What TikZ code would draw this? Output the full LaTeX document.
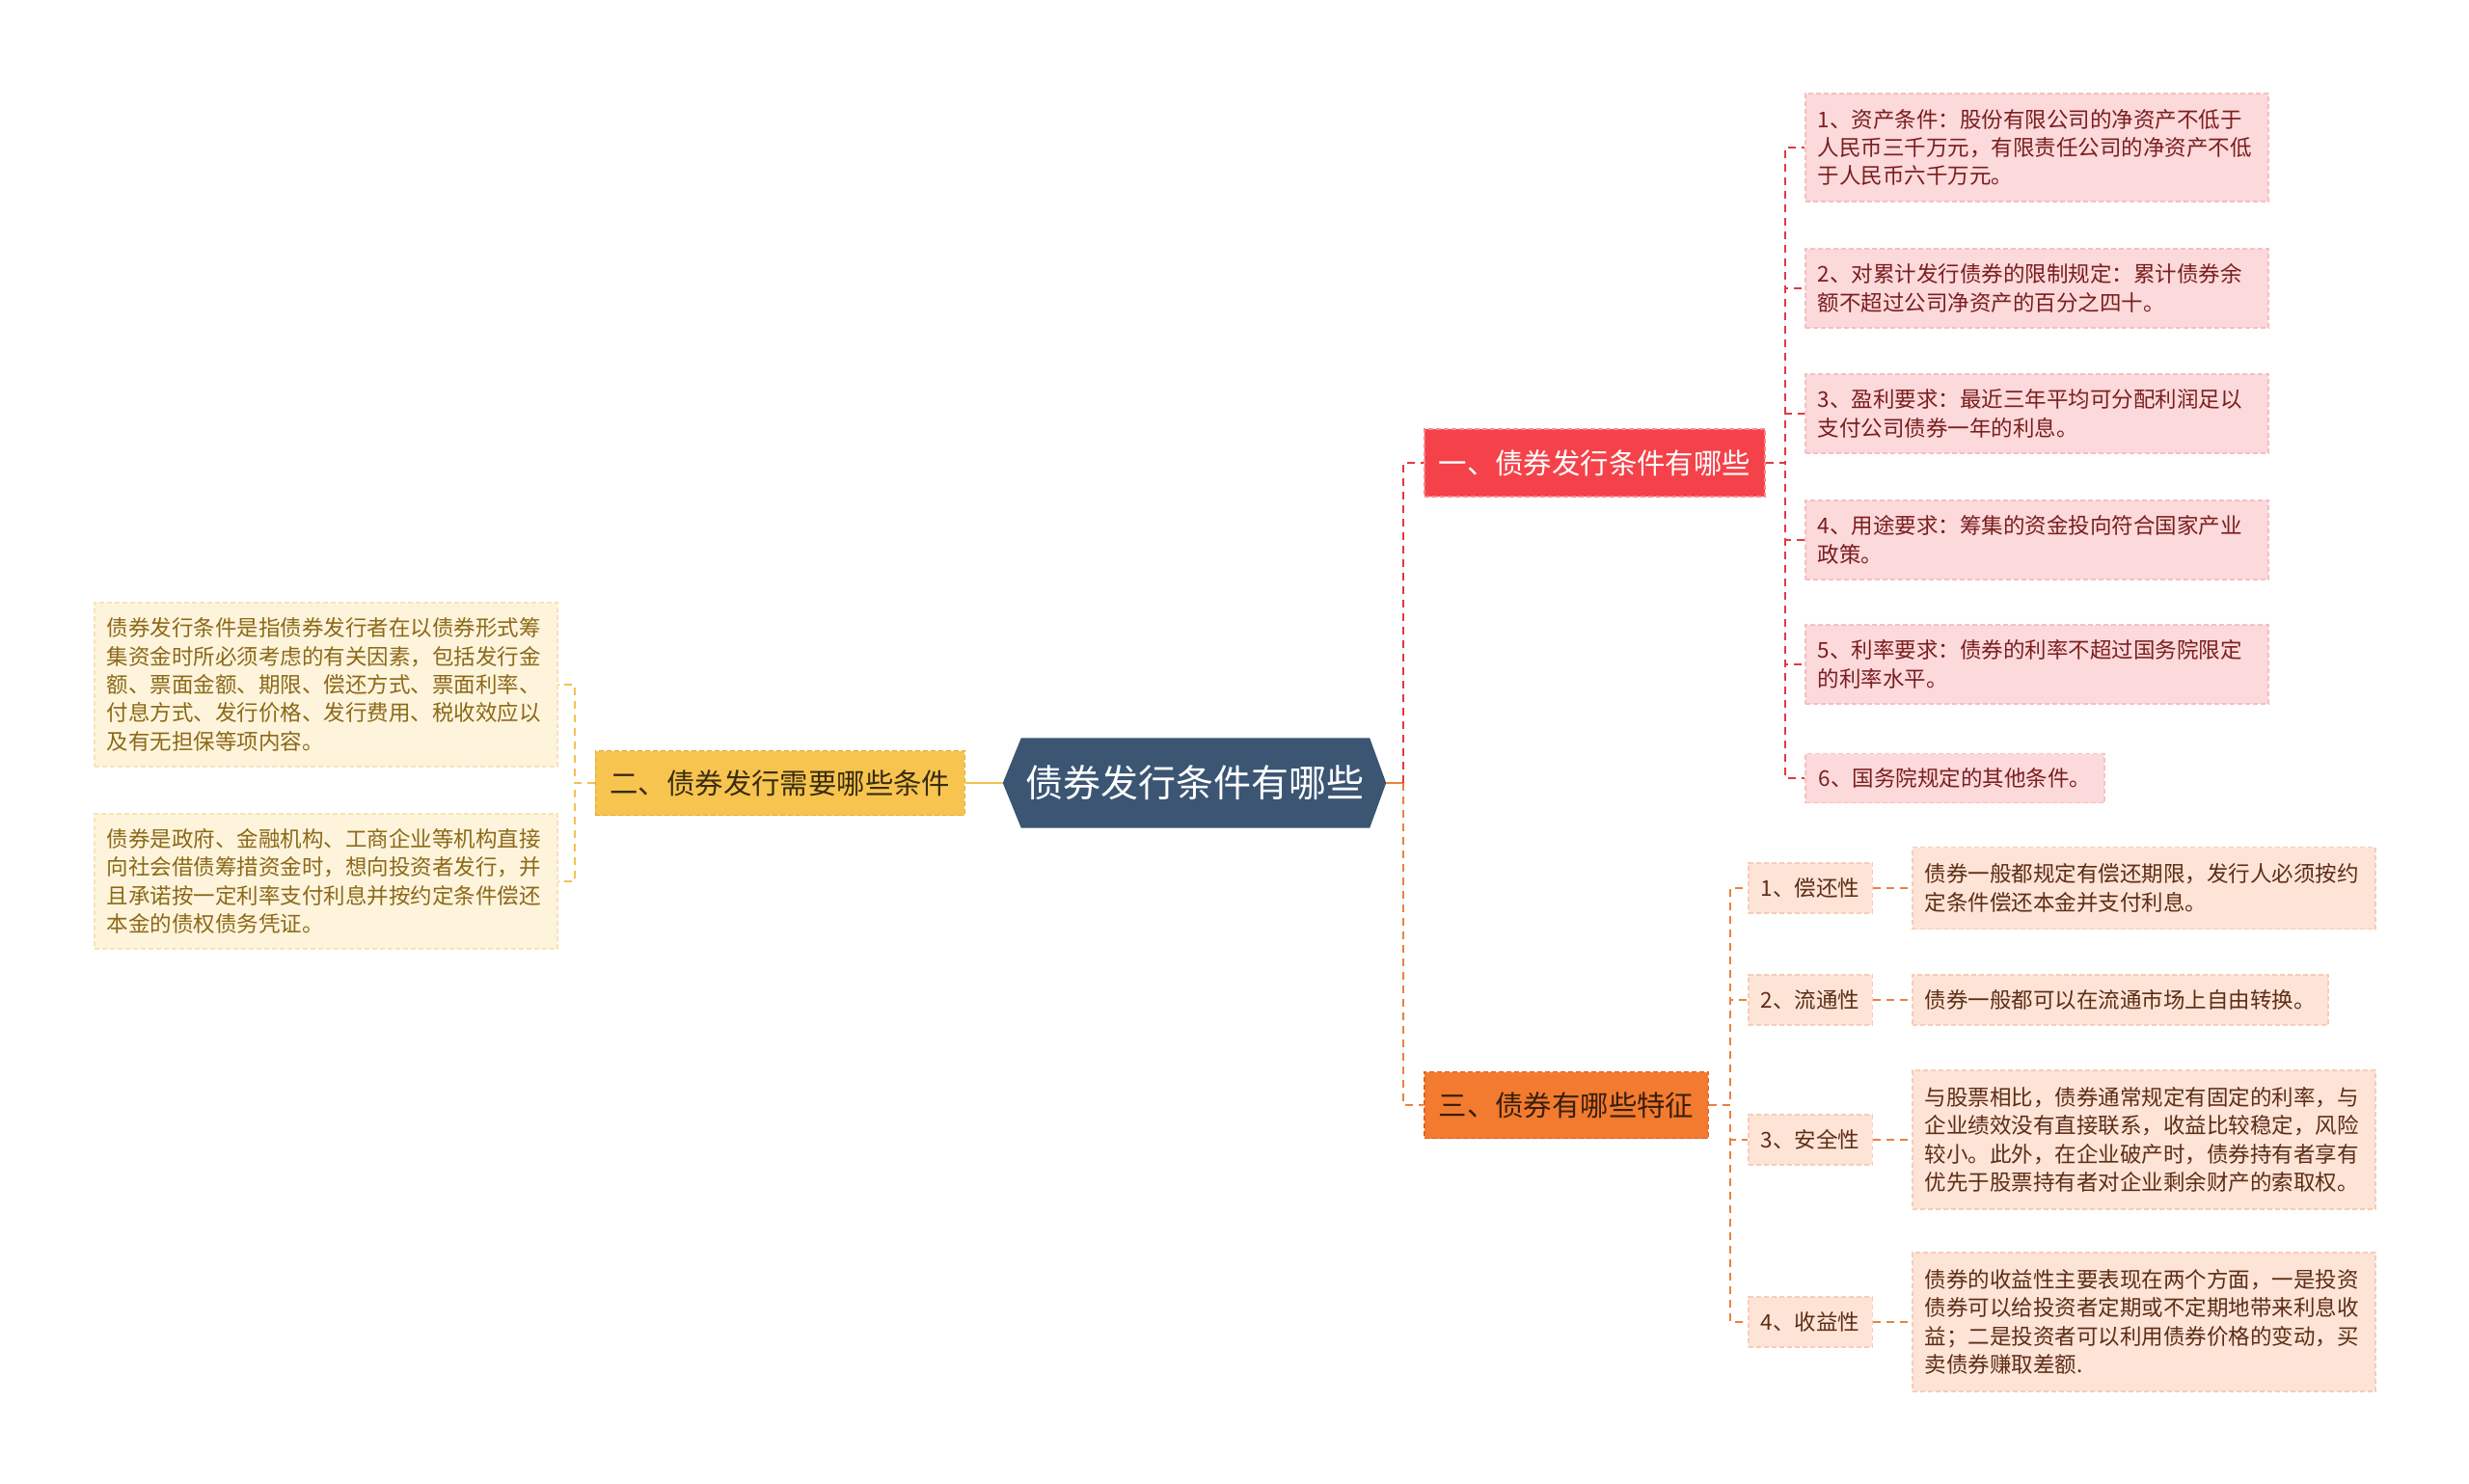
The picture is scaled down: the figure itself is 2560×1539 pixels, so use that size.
\documentclass[tikz,border=0pt]{standalone}
\usepackage{fontspec}
\newfontfamily\cjk{Noto Sans CJK SC}
\usetikzlibrary{backgrounds,calc}
\definecolor{rootfill}{HTML}{3B5573}
\definecolor{redfill}{HTML}{F5424A}
\definecolor{redborder}{HTML}{F58A8E}
\definecolor{redleaffill}{HTML}{FCD9DB}
\definecolor{redleafborder}{HTML}{F5BFC3}
\definecolor{redleaftext}{HTML}{7A1E1E}
\definecolor{yelfill}{HTML}{F7C54F}
\definecolor{yelborder}{HTML}{E3AA3A}
\definecolor{yeltext}{HTML}{3A2C12}
\definecolor{yelleaffill}{HTML}{FEF4DC}
\definecolor{yelleafborder}{HTML}{F8E3B5}
\definecolor{yelleaftext}{HTML}{8C6918}
\definecolor{orfill}{HTML}{F27B30}
\definecolor{orborder}{HTML}{DA6422}
\definecolor{ortext}{HTML}{3A1E0C}
\definecolor{orleaffill}{HTML}{FDE4D6}
\definecolor{orleafborder}{HTML}{F6CDB6}
\definecolor{orleaftext}{HTML}{5E2D17}
\definecolor{redline}{HTML}{E2393F}
\definecolor{orline}{HTML}{E8823E}
\definecolor{yelline}{HTML}{F2C24E}
\begin{document}
\begin{tikzpicture}[x=1pt,y=-1pt,
  leafbox/.style={rectangle, inner xsep=13pt, inner ysep=0pt,
    font=\cjk\fontsize{22.5}{29.4}\selectfont, align=left,
    line width=1.5pt, dash pattern=on 5pt off 3pt},
  redleaf/.style={leafbox, fill=redleaffill, draw=redleafborder, text=redleaftext},
  yelleaf/.style={leafbox, fill=yelleaffill, draw=yelleafborder, text=yelleaftext},
  orleaf/.style={leafbox, fill=orleaffill, draw=orleafborder, text=orleaftext},
  topic/.style={rectangle, inner xsep=15pt, inner ysep=0pt, minimum height=70pt,
    font=\cjk\fontsize{29.4}{34}\selectfont, line width=1.5pt, dash pattern=on 5pt off 3pt},
  conn/.style={line width=2.4pt, dash pattern=on 8pt off 6pt},
]
\useasboundingbox (0,0) rectangle (2560,1539);

% root
\node[minimum width=397pt, minimum height=93pt, inner sep=0pt, text=white,
  font=\cjk\fontsize{39}{44}\selectfont] (root) at (1238.5,812) {债券发行条件有哪些};
\begin{scope}[on background layer]
\fill[white] (0,0) rectangle (2560,1539);
\fill[rootfill] (root.west) -- ($(root.north west)+(19,0)$) -- ($(root.north east)+(-17,0)$)
  -- (root.east) -- ($(root.south east)+(-17,0)$) -- ($(root.south west)+(19,0)$) -- cycle;
\end{scope}

% main topics
\node[topic, fill=redfill, draw=redborder, text=white, anchor=west] (t1) at (1476,480) {一、债券发行条件有哪些};
\node[topic, fill=yelfill, draw=yelborder, text=yeltext, anchor=east, minimum height=67pt] (t2) at (1001,812) {二、债券发行需要哪些条件};
\node[topic, fill=orfill, draw=orborder, text=ortext, anchor=west, minimum height=69pt] (t3) at (1476,1146) {三、债券有哪些特征};

% red leaves
\node[redleaf, anchor=west, text width=454pt, minimum height=112pt] (r1) at (1871,153)
  {1、资产条件：股份有限公司的净资产不低于\\人民币三千万元，有限责任公司的净资产不低\\于人民币六千万元。};
\node[redleaf, anchor=west, text width=454pt, minimum height=82pt] (r2) at (1871,299)
  {2、对累计发行债券的限制规定：累计债券余\\额不超过公司净资产的百分之四十。};
\node[redleaf, anchor=west, text width=454pt, minimum height=82pt] (r3) at (1871,429)
  {3、盈利要求：最近三年平均可分配利润足以\\支付公司债券一年的利息。};
\node[redleaf, anchor=west, text width=454pt, minimum height=82pt] (r4) at (1871,560)
  {4、用途要求：筹集的资金投向符合国家产业\\政策。};
\node[redleaf, anchor=west, text width=454pt, minimum height=82pt] (r5) at (1871,689)
  {5、利率要求：债券的利率不超过国务院限定\\的利率水平。};
\node[redleaf, anchor=west, minimum width=310pt, minimum height=51pt] (r6) at (1871,807)
  {6、国务院规定的其他条件。};

% yellow leaves
\node[yelleaf, anchor=west, text width=454pt, minimum height=170pt] (y1) at (97,710)
  {债券发行条件是指债券发行者在以债券形式筹\\集资金时所必须考虑的有关因素，包括发行金\\额、票面金额、期限、偿还方式、票面利率、\\付息方式、发行价格、发行费用、税收效应以\\及有无担保等项内容。};
\node[yelleaf, anchor=west, text width=454pt, minimum height=140pt] (y2) at (97,914)
  {债券是政府、金融机构、工商企业等机构直接\\向社会借债筹措资金时，想向投资者发行，并\\且承诺按一定利率支付利息并按约定条件偿还\\本金的债权债务凭证。};

% orange labels
\node[orleaf, anchor=west, minimum width=128pt, minimum height=52pt] (o1) at (1812,921) {1、偿还性};
\node[orleaf, anchor=west, minimum width=128pt, minimum height=52pt] (o2) at (1812,1037) {2、流通性};
\node[orleaf, anchor=west, minimum width=128pt, minimum height=52pt] (o3) at (1812,1182) {3、安全性};
\node[orleaf, anchor=west, minimum width=128pt, minimum height=52pt] (o4) at (1812,1371) {4、收益性};

% orange texts
\node[orleaf, anchor=west, text width=454pt, minimum height=85pt] (d1) at (1982,921)
  {债券一般都规定有偿还期限，发行人必须按约\\定条件偿还本金并支付利息。};
\node[orleaf, anchor=west, minimum height=52pt] (d2) at (1982,1037)
  {债券一般都可以在流通市场上自由转换。};
\node[orleaf, anchor=west, text width=454pt, minimum height=144pt] (d3) at (1982,1182)
  {与股票相比，债券通常规定有固定的利率，与\\企业绩效没有直接联系，收益比较稳定，风险\\较小。此外，在企业破产时，债券持有者享有\\优先于股票持有者对企业剩余财产的索取权。};
\node[orleaf, anchor=west, text width=454pt, minimum height=144pt] (d4) at (1982,1371)
  {债券的收益性主要表现在两个方面，一是投资\\债券可以给投资者定期或不定期地带来利息收\\益；二是投资者可以利用债券价格的变动，买\\卖债券赚取差额.};

% connectors
\draw[orline, line width=2.4pt] (root.east) -- ++(18,0) coordinate (trunk);
\draw[redline, conn] (trunk) |- (t1.west);
\draw[orline, conn] (trunk) |- (t3.west);
\draw[yelline, line width=2.4pt] (root.west) -- (t2.east);

\foreach \n in {r1,r2,r3,r4,r5,r6}
  \draw[redline, conn] (t1.east) -- ++(20,0) |- (\n.west);
\foreach \n in {y1,y2}
  \draw[yelline, conn] (t2.west) -- ++(-21,0) |- (\n.east);
\foreach \n in {o1,o2,o3,o4}
  \draw[orline, conn] (t3.east) -- ++(22,0) |- (\n.west);
\draw[orline, conn] (o1.east) -- (d1.west);
\draw[orline, conn] (o2.east) -- (d2.west);
\draw[orline, conn] (o3.east) -- (d3.west);
\draw[orline, conn] (o4.east) -- (d4.west);
\end{tikzpicture}
\end{document}
